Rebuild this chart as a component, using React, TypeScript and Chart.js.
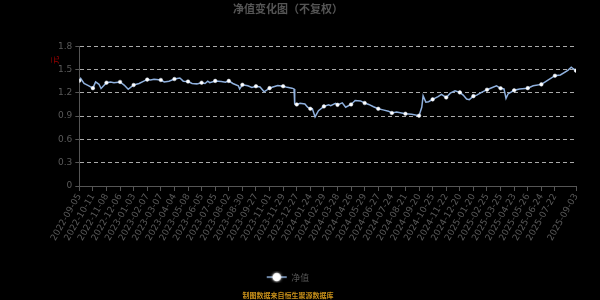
import React, { useEffect, useRef } from "react";
import { Chart, registerables } from "chart.js";

Chart.register(...registerables);

const titleText = "净值变化图（不复权）";
const sourceText = "制图数据来自恒生聚源数据库";
const seriesName = "净值";
const unitText = "元";

const tickLabels = [
  "2022-09-05", "2022-10-11", "2022-11-08", "2022-12-06", "2023-01-03", "2023-02-07",
  "2023-03-07", "2023-04-04", "2023-05-08", "2023-06-05", "2023-07-05", "2023-08-02",
  "2023-08-30", "2023-09-27", "2023-11-01", "2023-11-29", "2023-12-27", "2024-01-24",
  "2024-02-29", "2024-03-28", "2024-04-26", "2024-05-29", "2024-06-27", "2024-07-24",
  "2024-08-21", "2024-09-20", "2024-10-25", "2024-11-22", "2024-12-20", "2025-01-20",
  "2025-02-25", "2025-03-25", "2025-04-23", "2025-05-26", "2025-06-24", "2025-07-22",
  "2025-09-03",
];
// trading-day index of each labelled date
const tickDays = [
  0, 20, 40, 60, 80, 100, 120, 140, 160, 180, 200, 220, 240, 260, 280, 300, 320, 340,
  360, 380, 400, 420, 440, 460, 480, 500, 520, 540, 560, 580, 600, 620, 640, 660, 680,
  700, 731,
];

// sampled series: trading-day index and net value
const navDays = [
  0, 2, 7, 14, 20, 24, 29, 32, 40, 46, 51, 60, 66, 72, 80, 88, 95, 100, 105, 110, 120,
  125, 132, 140, 148, 153, 160, 166, 173, 180, 185, 189, 192, 200, 209, 215, 220, 226,
  234, 236, 240, 248, 254, 260, 266, 272, 280, 285, 292, 300, 306, 313, 316, 317, 320,
  325, 332, 336, 340, 343, 347, 352, 360, 367, 370, 377, 380, 387, 392, 400, 406, 414,
  420, 426, 433, 440, 447, 455, 460, 467, 480, 489, 500, 504, 506, 510, 514, 520, 528,
  533, 540, 546, 553, 560, 565, 570, 574, 580, 585, 592, 600, 607, 614, 620, 625, 628,
  631, 640, 648, 660, 668, 680, 688, 700, 708, 719, 724, 727, 731,
];
const navValues = [
  1.356, 1.386, 1.32, 1.29, 1.26, 1.34, 1.31, 1.255, 1.33, 1.34, 1.33, 1.34, 1.30, 1.245,
  1.30, 1.32, 1.35, 1.37, 1.365, 1.375, 1.365, 1.34, 1.35, 1.377, 1.39, 1.35, 1.345,
  1.32, 1.315, 1.33, 1.32, 1.35, 1.33, 1.353, 1.345, 1.335, 1.353, 1.32, 1.29, 1.25,
  1.303, 1.29, 1.27, 1.285, 1.275, 1.213, 1.26, 1.275, 1.295, 1.285, 1.27, 1.26, 1.25,
  1.057, 1.05, 1.065, 1.057, 1.014, 0.994, 0.994, 0.89, 0.97, 1.025, 1.045, 1.035,
  1.065, 1.045, 1.07, 1.014, 1.05, 1.10, 1.095, 1.068, 1.05, 1.02, 0.994, 0.98, 0.963,
  0.94, 0.953, 0.93, 0.925, 0.905, 1.014, 1.16, 1.08, 1.085, 1.115, 1.15, 1.18, 1.14,
  1.195, 1.225, 1.205, 1.17, 1.12, 1.112, 1.157, 1.17, 1.205, 1.24, 1.265, 1.29, 1.258,
  1.25, 1.128, 1.185, 1.232, 1.25, 1.26, 1.29, 1.308, 1.355, 1.42, 1.43, 1.49, 1.53,
  1.51, 1.485,
];

const LINE_COLOR = "#8fb0dd";
const CJK = "'Noto Sans CJK SC', sans-serif";
const SANS = "'DejaVu Sans', 'Noto Sans CJK SC', sans-serif";

function makeLegendIcon(): HTMLCanvasElement {
  const c = document.createElement("canvas");
  c.width = 22;
  c.height = 12;
  const g = c.getContext("2d")!;
  g.strokeStyle = LINE_COLOR;
  g.lineWidth = 1.5;
  g.beginPath();
  g.moveTo(1, 6);
  g.lineTo(21, 6);
  g.stroke();
  g.shadowColor = "rgba(255,255,255,0.9)";
  g.shadowBlur = 3;
  g.fillStyle = "#ffffff";
  g.beginPath();
  g.arc(11, 6, 4.3, 0, Math.PI * 2);
  g.fill();
  return c;
}

const unitPlugin = {
  id: "unitLabel",
  afterDraw(chart: any) {
    const ctx = chart.ctx;
    ctx.save();
    ctx.translate(55, 60);
    ctx.rotate(-Math.PI / 2);
    ctx.fillStyle = "#a00000";
    ctx.font = "8px " + CJK;
    ctx.textAlign = "center";
    ctx.textBaseline = "middle";
    ctx.fillText(unitText, 0, 0);
    ctx.restore();
  },
};

export default function App() {
  const ref = useRef<HTMLCanvasElement>(null);

  useEffect(() => {
    document.body.style.margin = "0";
    document.body.style.background = "#000";
    const tickSet = new Set(tickDays);
    const icon = makeLegendIcon();
    const chart = new Chart(ref.current!, {
      type: "line",
      data: {
        datasets: [
          {
            label: seriesName,
            data: navDays.map((d, i) => ({ x: d, y: navValues[i] })),
            borderColor: LINE_COLOR,
            borderWidth: 1.5,
            backgroundColor: "#ffffff",
            pointStyle: "circle",
            pointBackgroundColor: "#ffffff",
            pointBorderColor: "#dfe9f7",
            pointBorderWidth: 0.5,
            pointRadius: (ctx: any) => (ctx.raw && tickSet.has(ctx.raw.x) ? 1.8 : 0),
            tension: 0,
            fill: false,
          } as any,
        ],
      },
      options: {
        animation: false,
        responsive: false,
        layout: { padding: { left: 0, right: 24, top: 0, bottom: 0 } },
        plugins: {
          title: {
            display: true,
            text: titleText,
            color: "#555555",
            font: { family: CJK, size: 11, weight: "bold" },
            padding: { top: 2, bottom: 31 },
          },
          subtitle: {
            display: true,
            position: "bottom",
            text: sourceText,
            color: "#c8901a",
            font: { family: CJK, size: 7, weight: "bold" },
            padding: { top: 0, bottom: 0 },
          },
          legend: {
            display: true,
            position: "bottom",
            labels: {
              color: "#555555",
              font: { family: CJK, size: 9 },
              usePointStyle: true,
              pointStyleWidth: 20,
              padding: 10,
              generateLabels: () => [
                {
                  text: seriesName,
                  pointStyle: icon as any,
                  fillStyle: "#fff",
                  strokeStyle: LINE_COLOR,
                  lineWidth: 0,
                  hidden: false,
                  datasetIndex: 0,
                  fontColor: "#555555",
                } as any,
              ],
            },
          },
          tooltip: { enabled: false },
        },
        scales: {
          x: {
            type: "linear",
            min: 0,
            max: 731,
            afterBuildTicks: (scale: any) => {
              scale.ticks = tickDays.map((v) => ({ value: v }));
            },
            afterFit: (scale: any) => {
              scale.height = 76.6;
            },
            ticks: {
              autoSkip: false,
              maxRotation: 60,
              minRotation: 60,
              padding: 1,
              color: "#5a5a5a",
              font: { family: SANS, size: 9 },
              callback: (_v: any, i: number) => tickLabels[i],
            },
            grid: {
              drawOnChartArea: false,
              drawTicks: true,
              tickLength: 5,
              color: "#555555",
              tickColor: "#555555",
            },
            border: { display: true, color: "#555555", width: 1 },
          },
          y: {
            type: "linear",
            min: 0,
            max: 1.8,
            afterFit: (scale: any) => {
              scale.width = 79.3;
            },
            ticks: {
              stepSize: 0.3,
              padding: 3,
              color: "#5a5a5a",
              font: { family: SANS, size: 9 },
              callback: (v: any) => (Math.abs(v) < 1e-9 ? "0" : Number(v).toFixed(1)),
            },
            grid: {
              drawOnChartArea: true,
              drawTicks: true,
              tickLength: 4,
              lineWidth: 1,
              color: (ctx: any) =>
                ctx.tick && Math.abs(ctx.tick.value) < 1e-9 ? "rgba(0,0,0,0)" : "#aaaaaa",
              tickColor: "#555555",
            },
            border: { display: true, color: "#555555", width: 1, dash: [4, 3] },
          },
        },
      } as any,
      plugins: [unitPlugin],
    });
    return () => chart.destroy();
  }, []);

  return (
    <div style={{ width: 600, height: 300, background: "#000" }}>
      <canvas ref={ref} width={600} height={300} style={{ display: "block" }} />
    </div>
  );
}
